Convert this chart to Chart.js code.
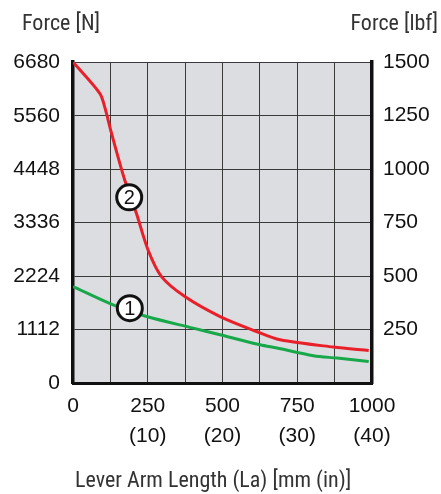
<!DOCTYPE html>
<html>
<head>
<meta charset="utf-8">
<script src="https://cdn.jsdelivr.net/npm/chart.js@4.4.1/dist/chart.umd.min.js"></script>
<style>
html,body{margin:0;padding:0;background:#fff;}
#wrap{width:441px;height:494px;position:relative;}
</style>
</head>
<body>
<div id="wrap"><canvas id="c" width="441" height="494"></canvas></div>
<script>
// Data
const curve2X = [0, 90, 106, 129, 173, 212, 251, 296, 374, 492, 614, 693, 871, 989];
const curve2Y = [6680, 6024, 5745, 5193, 4223, 3531, 2769, 2214, 1799, 1383, 1072, 899, 748, 677];
const curve1X = [0, 134, 246, 402, 492, 626, 682, 804, 883, 989];
const curve1Y = [2007, 1626, 1383, 1142, 1003, 796, 727, 567, 519, 449];
const markerLabels = ["2", "1"];
const markerX = [188, 190];
const markerY = [3863, 1558];
const leftTicks = [0, 1112, 2224, 3336, 4448, 5560, 6680];
const rightTicks = [0, 250, 500, 750, 1000, 1250, 1500];
const xTickLabels = {0: ["0"], 250: ["250", "(10)"], 500: ["500", "(20)"], 750: ["750", "(30)"], 1000: ["1000", "(40)"]};
const leftTitle = "Force [N]";
const rightTitle = "Force [lbf]";
const xTitle = "Lever Arm Length (La) [mm (in)]";

const narrow = "'Liberation Sans Narrow', 'Roboto Condensed', 'Liberation Sans', sans-serif";
const tickFont = {family: "'Liberation Sans', Arial, sans-serif", size: 21};

const toPts = (xs, ys) => xs.map((x, i) => ({x: x, y: ys[i]}));

const bgPlugin = {
  id: 'bg',
  beforeDraw(chart) {
    const {ctx, chartArea: a} = chart;
    ctx.save();
    ctx.fillStyle = '#dcdde0';
    ctx.fillRect(a.left, a.top, a.right - a.left, a.bottom - a.top);
    ctx.restore();
  },
  afterDraw(chart) {
    const {ctx} = chart;
    ctx.save();
    ctx.fillStyle = '#333';
    ctx.font = "22px " + narrow;
    ctx.textBaseline = 'alphabetic';
    ctx.textAlign = 'left';
    ctx.fillText(leftTitle, 22, 29.5);
    ctx.textAlign = 'right';
    ctx.fillText(rightTitle, 438, 29.5);
    ctx.textAlign = 'left';
    ctx.fillText(xTitle, 75, 487);
    // marker labels
    const meta = chart.getDatasetMeta(2);
    ctx.fillStyle = '#111';
    ctx.font = "20px 'Liberation Sans', Arial, sans-serif";
    ctx.textAlign = 'center';
    ctx.textBaseline = 'middle';
    meta.data.forEach((p, i) => {
      ctx.fillText(markerLabels[i], p.x, p.y + 1);
    });
    ctx.restore();
  }
};

new Chart(document.getElementById('c'), {
  type: 'line',
  data: {
    datasets: [
      {label: '2', data: toPts(curve2X, curve2Y), borderColor: '#e8202a', borderWidth: 3, pointRadius: 0, tension: 0.3, fill: false, order: 2},
      {label: '1', data: toPts(curve1X, curve1Y), borderColor: '#18a84a', borderWidth: 3, pointRadius: 0, tension: 0.3, fill: false, order: 3},
      {label: 'markers', data: toPts(markerX, markerY), showLine: false, pointRadius: 12.5, pointHoverRadius: 12.5,
       pointBackgroundColor: '#fff', pointBorderColor: '#111', pointBorderWidth: 3, order: 1}
    ]
  },
  options: {
    responsive: false,
    animation: false,
    devicePixelRatio: 1,
    layout: {padding: {top: 62, left: 0, right: 0, bottom: 0}},
    plugins: {legend: {display: false}, tooltip: {enabled: false}, title: {display: false}},
    events: [],
    scales: {
      x: {
        type: 'linear', min: 0, max: 1000,
        ticks: {stepSize: 125, autoSkip: false, maxRotation: 0, padding: 8, color: '#111', font: {...tickFont, lineHeight: 1.43},
          callback: (v) => xTickLabels[v] || ''},
        grid: {color: '#3a3a3a', lineWidth: 1, drawTicks: false},
        border: {display: true, color: '#111', width: 3},
        afterFit(s) { s.height = 111; }
      },
      y: {
        type: 'linear', position: 'left', min: 0, max: 6680,
        afterBuildTicks(s) { s.ticks = leftTicks.map(v => ({value: v})); },
        ticks: {padding: 13, color: '#111', font: tickFont, callback: (v) => String(v)},
        grid: {color: '#3a3a3a', lineWidth: 1, drawTicks: false},
        border: {display: true, color: '#111', width: 3.5},
        afterFit(s) { s.width = 73; }
      },
      y2: {
        type: 'linear', position: 'right', min: 0, max: 1500,
        afterBuildTicks(s) { s.ticks = rightTicks.map(v => ({value: v})); },
        ticks: {padding: 11, color: '#111', font: tickFont, callback: (v) => v === 0 ? '' : String(v)},
        grid: {display: false, drawTicks: false},
        border: {display: true, color: '#111', width: 3.5},
        afterFit(s) { s.width = 69; }
      }
    }
  },
  plugins: [bgPlugin]
});
</script>
</body>
</html>
